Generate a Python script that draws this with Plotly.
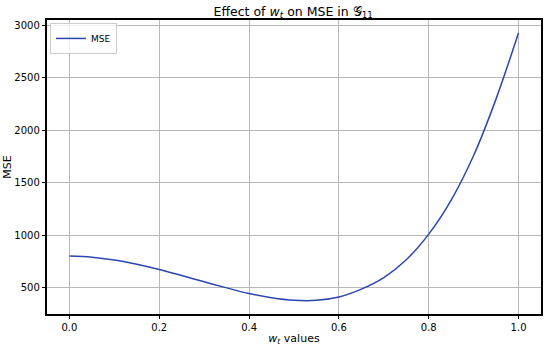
import plotly.graph_objects as go

w_values = [0.00, 0.05, 0.10, 0.15, 0.20, 0.25, 0.30, 0.35, 0.40, 0.45, 0.50,
            0.55, 0.60, 0.65, 0.70, 0.75, 0.80, 0.85, 0.90, 0.95, 1.00]
mse_values = [800, 789, 762, 722, 672, 614, 555, 497, 443, 403, 379,
              378, 410, 485, 595, 765, 1010, 1335, 1760, 2300, 2930]

x_ticks = [0.0, 0.2, 0.4, 0.6, 0.8, 1.0]
y_ticks = [500, 1000, 1500, 2000, 2500, 3000]

font_family = "DejaVu Sans, sans-serif"

fig = go.Figure()
fig.add_trace(go.Scatter(
    x=w_values, y=mse_values, mode="lines", name="MSE",
    line=dict(color="#2a46b0", width=1.5, shape="spline", smoothing=1.0),
))

axis_common = dict(
    showline=True, linecolor="black", linewidth=1.5, mirror=True,
    showgrid=True, gridcolor="#b8b8b8", gridwidth=0.8,
    ticks="outside", ticklen=3.5, tickwidth=0.8, tickcolor="black",
    tickfont=dict(family=font_family, size=10, color="black"),
    zeroline=False, automargin=False,
)

fig.update_layout(
    width=550, height=348,
    margin=dict(l=47, r=9, t=20, b=34),
    paper_bgcolor="white", plot_bgcolor="white",
    font=dict(family=font_family, color="black"),
    title=dict(
        text="Effect of <i>w</i><sub><i>t</i></sub> on MSE in 𝒢<sub>11</sub>",
        x=0.533, xanchor="center", y=0.968, yanchor="middle",
        font=dict(family=font_family, size=12.5, color="black"),
    ),
    xaxis=dict(
        **axis_common, range=[-0.05, 1.05], tickvals=x_ticks,
        ticktext=[f"{v:.1f}" for v in x_ticks],
        title=dict(text="<i>w</i><sub><i>t</i></sub> values", standoff=2,
                   font=dict(family=font_family, size=11, color="black")),
    ),
    yaxis=dict(
        **axis_common, range=[247.5, 3052.5], tickvals=y_ticks,
        ticktext=[str(v) for v in y_ticks],
        title=dict(text="MSE", standoff=0,
                   font=dict(family=font_family, size=11, color="black")),
    ),
    legend=dict(
        x=0.006, y=0.99, xanchor="left", yanchor="top",
        bgcolor="rgba(255,255,255,0.8)", bordercolor="#cccccc", borderwidth=1,
        font=dict(family=font_family, size=9, color="black"),
        itemwidth=30, tracegroupgap=0,
    ),
    showlegend=True,
)

fig.write_html("out.html", config={"displayModeBar": False},
               post_script="document.body.style.margin='0';")
